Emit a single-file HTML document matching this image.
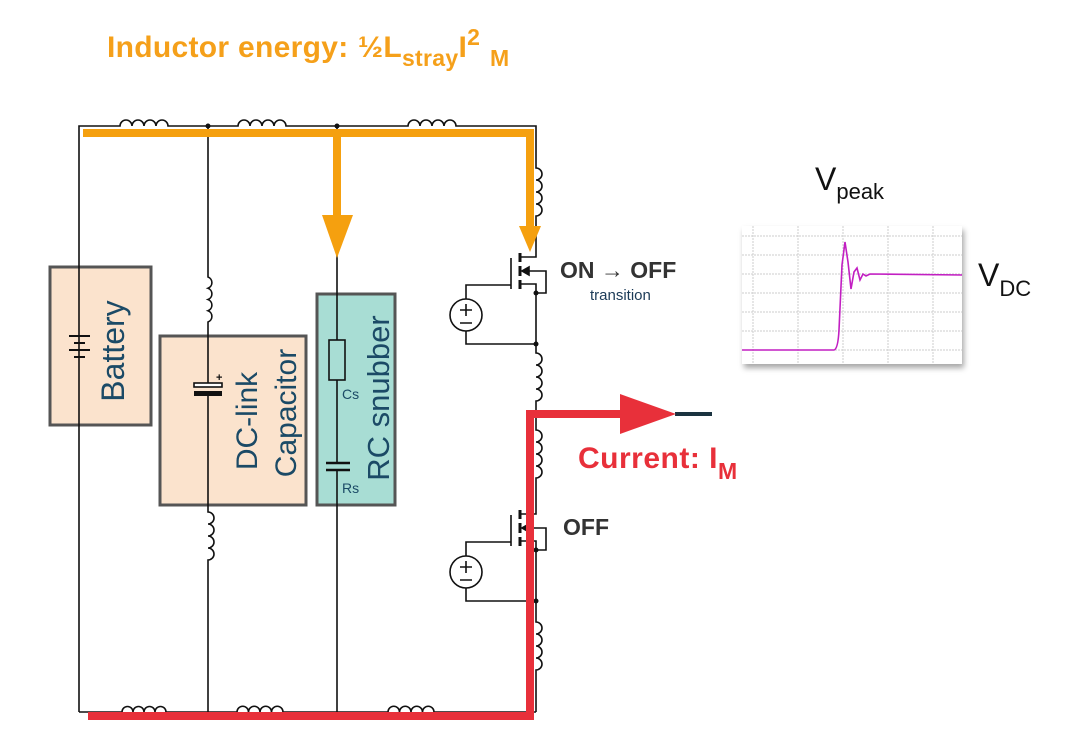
<!DOCTYPE html>
<html><head><meta charset="utf-8"><style>
html,body{margin:0;padding:0;background:#fff;}
svg{display:block;font-family:"Liberation Sans",sans-serif;}
</style></head><body>
<svg width="1080" height="753" viewBox="0 0 1080 753" xmlns="http://www.w3.org/2000/svg">
<defs>
<filter id="sh" x="-10%" y="-10%" width="130%" height="130%"><feDropShadow dx="2" dy="4" stdDeviation="3" flood-color="#000" flood-opacity="0.35"/></filter>
</defs>
<text x="107" y="57" font-size="30" font-weight="bold" fill="#f5a01a" letter-spacing="0.3">Inductor energy:<tspan x="358">½L</tspan><tspan font-size="23" dy="9">stray</tspan><tspan dy="-9">I</tspan><tspan font-size="23" dy="-12">2</tspan><tspan font-size="23" dy="21" x="490">M</tspan></text>

<rect x="50" y="267" width="101" height="158" fill="#fbe3cd" stroke="#555" stroke-width="3"/>
<rect x="160" y="336" width="146" height="169" fill="#fbe3cd" stroke="#555" stroke-width="3"/>
<rect x="317" y="294" width="78" height="211" fill="#a8ddd4" stroke="#555" stroke-width="3"/>

<g fill="none" stroke="#111" stroke-width="1.6">
<path d="M79 712 V126 H120 a6 6 0 0 1 12 0 a6 6 0 0 1 12 0 a6 6 0 0 1 12 0 a6 6 0 0 1 12 0 H238 a6 6 0 0 1 12 0 a6 6 0 0 1 12 0 a6 6 0 0 1 12 0 a6 6 0 0 1 12 0 H408 a6 6 0 0 1 12 0 a6 6 0 0 1 12 0 a6 6 0 0 1 12 0 a6 6 0 0 1 12 0 H536 V168 a6 6 0 0 1 0 12 a6 6 0 0 1 0 12 a6 6 0 0 1 0 12 a6 6 0 0 1 0 12 V257 H520"/>
<path d="M79 712 H122 a5.5 5.5 0 0 1 11 0 a5.5 5.5 0 0 1 11 0 a5.5 5.5 0 0 1 11 0 a5.5 5.5 0 0 1 11 0 H237 a5.75 5.75 0 0 1 11.5 0 a5.75 5.75 0 0 1 11.5 0 a5.75 5.75 0 0 1 11.5 0 a5.75 5.75 0 0 1 11.5 0 H388 a5.75 5.75 0 0 1 11.5 0 a5.75 5.75 0 0 1 11.5 0 a5.75 5.75 0 0 1 11.5 0 a5.75 5.75 0 0 1 11.5 0 H536"/>
<path d="M536 293 V353 a6 6 0 0 1 0 12 a6 6 0 0 1 0 12 a6 6 0 0 1 0 12 a6 6 0 0 1 0 12 V430 a6 6 0 0 1 0 12 a6 6 0 0 1 0 12 a6 6 0 0 1 0 12 a6 6 0 0 1 0 12 V514 H520"/>
<path d="M536 550 V622 a6 6 0 0 1 0 12 a6 6 0 0 1 0 12 a6 6 0 0 1 0 12 a6 6 0 0 1 0 12 V712"/>
<path d="M208 126 V277 a6 6 0 0 1 0 11.25 a6 6 0 0 1 0 11.25 a6 6 0 0 1 0 11.25 a6 6 0 0 1 0 11.25 V383 M208 396 V512 a6 6 0 0 1 0 12 a6 6 0 0 1 0 12 a6 6 0 0 1 0 12 a6 6 0 0 1 0 12 V712"/>
<path d="M337 126 V340 M337 380 V463 M337 470 V712"/>
<rect x="329" y="340" width="16" height="40"/>
<path d="M326 463 H350 M326 470 H350" stroke-width="2.5"/>
<path d="M69 336 H90 M74 343 H85 M69 350 H90 M74 357 H85" stroke-width="2"/>
</g>
<rect x="194" y="383" width="28" height="4" fill="#fff" stroke="#111" stroke-width="1.6"/>
<rect x="194" y="391" width="28" height="5" fill="#111"/>
<text x="216" y="381" font-size="11" font-weight="bold" fill="#111">+</text>
<g fill="#111"><circle cx="208" cy="126" r="2.5"/><circle cx="337" cy="126" r="2.5"/><circle cx="536" cy="293" r="2.5"/><circle cx="536" cy="344" r="2.5"/><circle cx="536" cy="550" r="2.5"/><circle cx="536" cy="601" r="2.5"/></g>

<g id="m1" fill="none" stroke="#111" stroke-width="1.6">
<path d="M520 253 V262 M520 266 V276 M520 280 V289" stroke-width="3"/>
<path d="M511 258 V289 M511 285 H466 V299 M466 331 V344 H536 M520 284 H536 V293 M522 271 H546 V293 H536"/>
<path d="M522 271 l7 -4 v8 z" fill="#111"/>
<circle cx="466" cy="315" r="16"/>
<path d="M460 310 H472 M466 304 V316 M460 323 H472"/>
</g>
<use href="#m1" transform="translate(0,257)"/>

<path d="M83 133 H530 V230 M337 133 V218" fill="none" stroke="#f5a00f" stroke-width="8"/>
<path d="M322 215 H353 L337 258 Z" fill="#f5a00f"/>
<path d="M519 226 H541 L530 252 Z" fill="#f5a00f"/>

<path d="M675 414 H712" stroke="#1b3340" stroke-width="4"/>
<path d="M88 716 H530 V414 H625" fill="none" stroke="#e8303a" stroke-width="8"/>
<path d="M620 394 L676 414 L620 434 Z" fill="#e8303a"/>

<text transform="translate(124,351) rotate(-90)" text-anchor="middle" font-size="32" fill="#1b4a66">Battery</text>
<text transform="translate(257,421) rotate(-90)" text-anchor="middle" font-size="30" fill="#1b4a66">DC-link</text>
<text transform="translate(296,413) rotate(-90)" text-anchor="middle" font-size="30" fill="#1b4a66">Capacitor</text>
<text transform="translate(389,398) rotate(-90)" text-anchor="middle" font-size="31" fill="#1b4a66">RC snubber</text>
<text x="342" y="399" font-size="14" fill="#1b4a66">Cs</text>
<text x="342" y="493" font-size="14" fill="#1b4a66">Rs</text>
<text x="560" y="278" font-size="23" font-weight="bold" fill="#333">ON → OFF</text>
<text x="590" y="300" font-size="15" fill="#1b3a57">transition</text>
<text x="563" y="535" font-size="23" font-weight="bold" fill="#333">OFF</text>
<text x="578" y="468" font-size="30" font-weight="bold" fill="#e8303a" letter-spacing="0.5">Current: I<tspan font-size="23" dy="11">M</tspan></text>

<rect x="742" y="226" width="220" height="138" fill="#fff" filter="url(#sh)"/>
<g stroke="#ccc" stroke-width="1" stroke-dasharray="2 1">
<path d="M753 226 V364 M798 226 V364 M843 226 V364 M888 226 V364 M933 226 V364"/>
<path d="M742 236 H962 M742 255 H962 M742 274 H962 M742 293 H962 M742 312 H962 M742 331 H962 M742 350 H962"/>
</g>
<path d="M742 350 H834 Q838 349 839 330 L842 265 L845 242 L848 262 L851 289 L854 272 L857 268 L860 280 L863 274 L866 276 L870 274 L962 275" fill="none" stroke="#c21fc2" stroke-width="1.6"/>
<text x="815" y="190" font-size="32" fill="#111">V<tspan font-size="22" dy="9">peak</tspan></text>
<text x="978" y="286" font-size="32" fill="#111">V<tspan font-size="22" dy="10">DC</tspan></text>
</svg>
</body></html>
